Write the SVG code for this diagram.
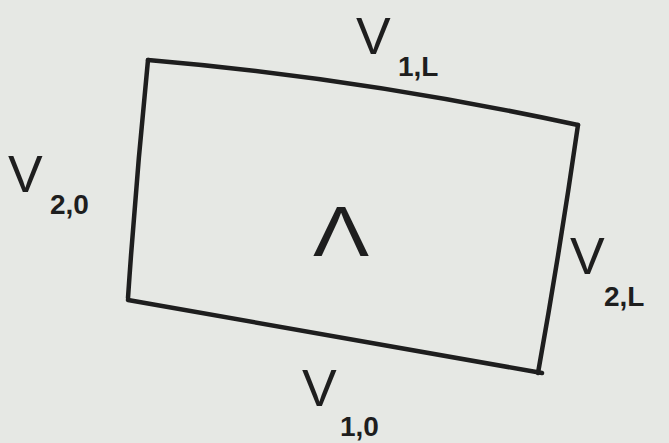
<svg xmlns="http://www.w3.org/2000/svg" width="669" height="443" viewBox="0 0 669 443">
<style>
.edge{fill:none;stroke:#1e1e1e;stroke-width:4.5;stroke-linecap:round;stroke-linejoin:round}
.v{font-family:"Liberation Sans",sans-serif;fill:#1e1e1e;font-size:52px}
.s{font-family:"Liberation Sans",sans-serif;fill:#1e1e1e;font-size:28px;font-weight:bold}
.lam{font-family:"Liberation Sans",sans-serif;fill:#1e1e1e;font-size:70px}
</style>
<rect width="669" height="443" fill="#e6e8e4"/>
<g id="connectors">
<path class="edge" d="M148,60 Q360,78 578,125"/>
<path class="edge" d="M578,125 Q560,250 538,373"/>
<path class="edge" d="M128,300 Q330,335 542,373"/>
<path class="edge" d="M148,60 Q136,180 128,298"/>
</g>
<g id="V1L"><text class="v" x="356" y="54">V</text><text class="s" x="398" y="76">1,L</text></g>
<g id="V20"><text class="v" x="8" y="192">V</text><text class="s" x="50" y="214">2,0</text></g>
<g id="V2L"><text class="v" x="570" y="274">V</text><text class="s" x="604" y="306">2,L</text></g>
<g id="V10"><text class="v" x="302" y="406">V</text><text class="s" x="340" y="436">1,0</text></g>
<g id="Lambda"><text class="lam" x="0" y="0" transform="translate(313,256) scale(1.2,1)">Λ</text></g>
</svg>
